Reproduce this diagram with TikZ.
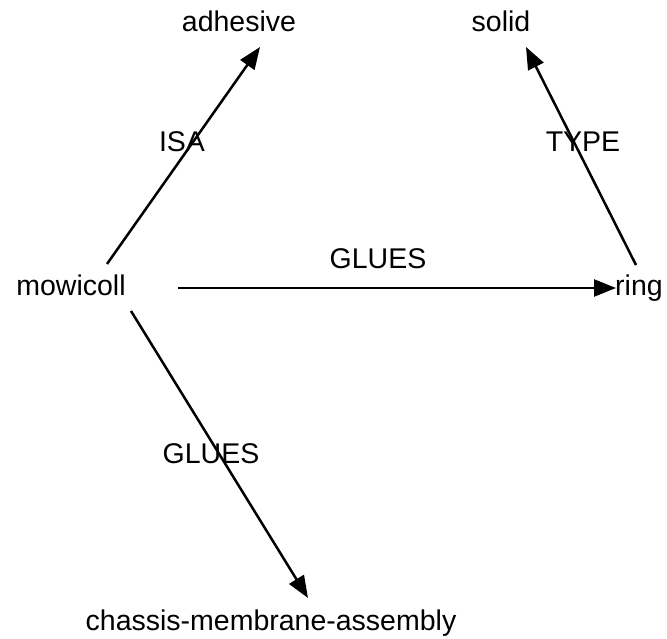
\documentclass[tikz,border=0pt]{standalone}
\usepackage{fontspec}
\setmainfont{Liberation Sans}
\usetikzlibrary{arrows.meta}
\tikzset{
  lbl/.style={anchor=base, inner sep=0pt, font=\fontsize{28.5}{32}\selectfont},
  edge/.style={line width=2.5pt, -{Triangle[length=22pt,width=17pt]}}
}
\begin{document}
\begin{tikzpicture}[x=1pt,y=-1pt]
\useasboundingbox (0,0) rectangle (667,639);
% concept nodes
\node[lbl] (adh) at (239,32) {adhesive};
\node[lbl] (sol) at (501,32) {solid};
\node[lbl] (mow) at (71,295) {mowicoll};
\node[lbl] (ring) at (639,295) {ring};
\node[lbl] (cma) at (271,630) {chassis-membrane-assembly};
% connector end points
\coordinate (mowA) at (107,264);
\coordinate (adhA) at (260,47);
\coordinate (ringA) at (636,265);
\coordinate (solA) at (526,47);
\coordinate (mowR) at (178,288);
\coordinate (ringR) at (616,288);
\coordinate (mowC) at (131,311);
\coordinate (cmaC) at (308,598);
% connectors
\draw[edge] (mowA) -- (adhA);
\draw[edge] (ringA) -- (solA);
\draw[edge] (mowR) -- (ringR);
\draw[edge] (mowC) -- (cmaC);
% edge labels
\node[lbl] (isa) at (182,152) {ISA};
\node[lbl] (type) at (583,152) {TYPE};
\node[lbl] (g1) at (378,269) {GLUES};
\node[lbl] (g2) at (211,463) {GLUES};
\end{tikzpicture}
\end{document}
